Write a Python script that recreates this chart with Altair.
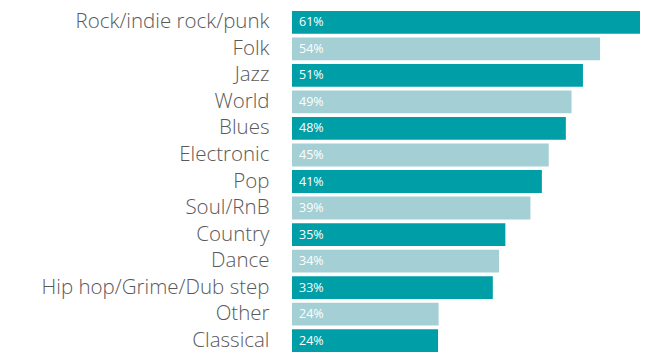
import altair as alt
import pandas as pd

categories = ["Rock/indie rock/punk", "Folk", "Jazz", "World", "Blues", "Electronic",
              "Pop", "Soul/RnB", "Country", "Dance", "Hip hop/Grime/Dub step", "Other", "Classical"]
bar_values = [61, 54, 51, 49, 48, 45, 43.8, 41.8, 37.4, 36.3, 35.2, 25.7, 25.6]
label_texts = ["61%", "54%", "51%", "49%", "48%", "45%", "41%", "39%", "35%", "34%", "33%", "24%", "24%"]
shades = ["dark", "light"] * 6 + ["dark"]

df = pd.DataFrame({"genre": categories, "value": bar_values, "label": label_texts, "shade": shades})

y_enc = alt.Y("genre:N", sort=categories,
              scale=alt.Scale(paddingInner=0.14, paddingOuter=0),
              axis=alt.Axis(title=None, domain=False, ticks=False, labelPadding=23,
                            labelFont="Open Sans", labelFontSize=20.5, labelFontWeight=300,
                            labelColor="#595959", labelLimit=400))
x_enc = alt.X("value:Q", scale=alt.Scale(domain=[0, 61], nice=False), axis=None)

bars = alt.Chart(df).mark_bar().encode(
    y=y_enc, x=x_enc,
    color=alt.Color("shade:N", scale=alt.Scale(domain=["dark", "light"], range=["#009FA8", "#A4CFD4"]), legend=None),
)
text = alt.Chart(df).mark_text(align="left", baseline="middle", dx=7, color="white",
                               font="Open Sans", fontSize=12.5).encode(
    y=alt.Y("genre:N", sort=categories), x=alt.value(0), text="label:N")

chart = (bars + text).properties(
    width=348, height=341,
    autosize=alt.AutoSizeParams(type="none"),
    padding={"left": 284, "top": 3, "right": 4, "bottom": 0},
).configure_view(stroke=None)

chart.save("out.html", embed_options={"renderer": "svg", "actions": False})
